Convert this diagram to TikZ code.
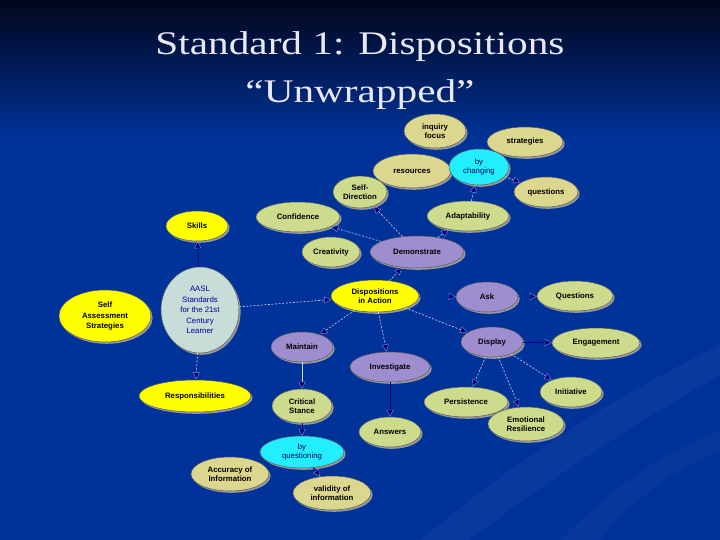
\documentclass[tikz,border=0pt]{standalone}
\usepackage{fontspec}
\setmainfont{Liberation Serif}
\setsansfont{Liberation Sans}
\usetikzlibrary{shapes.geometric,arrows.meta,shadows}
\definecolor{bgblue}{HTML}{003399}
\definecolor{topdark}{HTML}{02061C}
\definecolor{titlec}{HTML}{E8E8F6}
\definecolor{cyel}{HTML}{FFFF00}
\definecolor{cgrn}{HTML}{CCDC8C}
\definecolor{ctan}{HTML}{DCD78E}
\definecolor{ccyan}{HTML}{22EEFF}
\definecolor{cpur}{HTML}{9F8ECF}
\definecolor{caasl}{HTML}{C8DCD8}
\definecolor{navyc}{HTML}{000080}
\definecolor{lineL}{HTML}{C8D4F0}
\definecolor{lineD}{HTML}{000099}
\begin{document}
\begin{tikzpicture}[x=1pt,y=-1pt,
  bub/.style={ellipse, draw=black!65, line width=0.5pt, inner sep=0pt, align=center,
    font=\sffamily\bfseries\fontsize{7.8}{9}\selectfont, text=black,
    drop shadow={shadow xshift=1.6pt, shadow yshift=-1.8pt, fill=black!40, opacity=1}},
  sz/.style 2 args={minimum width=#1, minimum height=#2},
  yel/.style={bub, fill=cyel},
  grn/.style={bub, fill=cgrn},
  tan/.style={bub, fill=ctan},
  cyn/.style={bub, fill=ccyan, text=navyc!70!black},
  pur/.style={bub, fill=cpur},
  tipx/.tip={Triangle[length=7pt,width=7pt,fill=navyc,color=navyc!45!white,line width=0.4pt]},
  dl/.style={draw=lineL, line width=0.6pt, dash pattern=on 2pt off 1.6pt, -tipx, shorten >=0.5pt},
  sld/.style={draw=lineD, line width=0.9pt, -tipx},
  sll/.style={draw=lineL, line width=0.7pt, -tipx},
  hid/.style={draw=bgblue, line width=0.6pt, -tipx}
]
\useasboundingbox (0,0) rectangle (720,540);
\fill[bgblue] (0,0) rectangle (720,540);
\shade[top color=topdark, bottom color=bgblue] (0,0) rectangle (720,140);
\fill[white, opacity=0.03] (420,540) .. controls (540,440) and (640,385) .. (720,345) -- (720,375) .. controls (650,415) and (560,470) .. (470,540) -- cycle;
\fill[white, opacity=0.025] (560,540) .. controls (620,480) and (670,450) .. (720,430) -- (720,450) .. controls (675,470) and (630,500) .. (600,540) -- cycle;

% title
\node[anchor=base, text=titlec, font=\fontsize{33}{38}\selectfont] (t1) at (360,55) {\scalebox{1.25}[1]{Standard 1: Dispositions}};
\node[anchor=base, text=titlec, font=\fontsize{33}{38}\selectfont] (t2) at (360,103) {\scalebox{1.25}[1]{“Unwrapped”}};

% nodes
\node[tan, sz={62}{34}] (inq) at (435,131) {inquiry\\focus};
\node[tan, sz={76}{30}] (strat) at (525,142) {strategies};
\node[tan, sz={78}{34}] (res) at (412,171) {resources};
\node[cyn, sz={60}{36}, font=\sffamily\fontsize{7.8}{9}\selectfont] (bychg) at (479,167) {by\\changing};
\node[tan, sz={64}{30}] (ques1) at (546,192) {questions};
\node[grn, sz={54}{32}] (selfd) at (360,192) {Self-\\Direction};
\node[grn, sz={84}{30}] (conf) at (298,217) {Confidence};
\node[grn, sz={82}{30}] (adapt) at (468,216) {Adaptability};
\node[yel, sz={62}{30}] (skills) at (197,226) {Skills};
\node[grn, sz={58}{30}] (creat) at (331,252) {Creativity};
\node[pur, sz={94}{32}] (demo) at (417,252) {Demonstrate};
\node[bub, fill=caasl, text=navyc!80!blue, font=\sffamily\fontsize{7.8}{10.5}\selectfont, sz={78}{86}] (aasl) at (200,310) {AASL\\Standards\\for the 21st\\Century\\Learner};
\node[yel, sz={92}{52}, font=\sffamily\bfseries\fontsize{7.8}{10.5}\selectfont] (selfa) at (105,316) {Self\\Assessment\\Strategies};
\node[yel, sz={88}{32}] (disp) at (375,296) {Dispositions\\in Action};
\node[pur, sz={62}{30}] (ask) at (487,297) {Ask};
\node[grn, sz={76}{30}] (ques2) at (575,296) {Questions};
\node[pur, sz={62}{30}] (maint) at (302,347) {Maintain};
\node[pur, sz={62}{30}] (displ) at (492,342) {Display};
\node[grn, sz={88}{30}] (engage) at (596,343) {Engagement};
\node[pur, sz={80}{30}] (invest) at (390,367) {Investigate};
\node[yel, sz={112}{32}] (resp) at (195,396) {Responsibilities};
\node[grn, sz={60}{34}] (crit) at (302,406) {Critical\\Stance};
\node[grn, sz={62}{30}] (init) at (571,392) {Initiative};
\node[grn, sz={84}{30}] (pers) at (466,402) {Persistence};
\node[grn, sz={62}{30}] (ans) at (390,432) {Answers};
\node[grn, sz={76}{34}] (emres) at (526,424) {Emotional\\Resilience};
\node[cyn, sz={84}{32}, font=\sffamily\fontsize{7.8}{9}\selectfont] (byq) at (302,452) {by\\questioning};
\node[tan, sz={78}{34}] (acc) at (230,474) {Accuracy of\\Information};
\node[tan, sz={78}{34}] (valid) at (332,493) {validity of\\information};

% connectors
\draw[sld] (aasl) -- (skills);
\draw[dl] (aasl) -- (resp);
\draw[dl] (aasl) -- (disp);
\draw[dl] (disp) -- (demo);
\draw[dl] (disp) -- (maint);
\draw[dl] (disp) -- (invest);
\draw[dl] (disp) -- (displ);
\draw[hid] (disp) -- (ask);
\draw[hid] (ask) -- (ques2);
\draw[sld] (displ) -- (engage);
\draw[dl] (displ) -- (pers);
\draw[dl] (displ) -- (emres);
\draw[dl] (displ) -- (init);
\draw[sll] (maint) -- (crit);
\draw[sld] (crit) -- (byq);
\draw[sld] (byq) -- (valid);
\draw[sld] (invest) -- (ans);
\draw[dl] (demo) -- (conf);
\draw[dl] (demo) -- (selfd);
\draw[dl] (demo) -- (adapt);
\draw[dl] (adapt) -- (bychg);
\draw[dl] (bychg) -- (ques1);
\end{tikzpicture}
\end{document}
